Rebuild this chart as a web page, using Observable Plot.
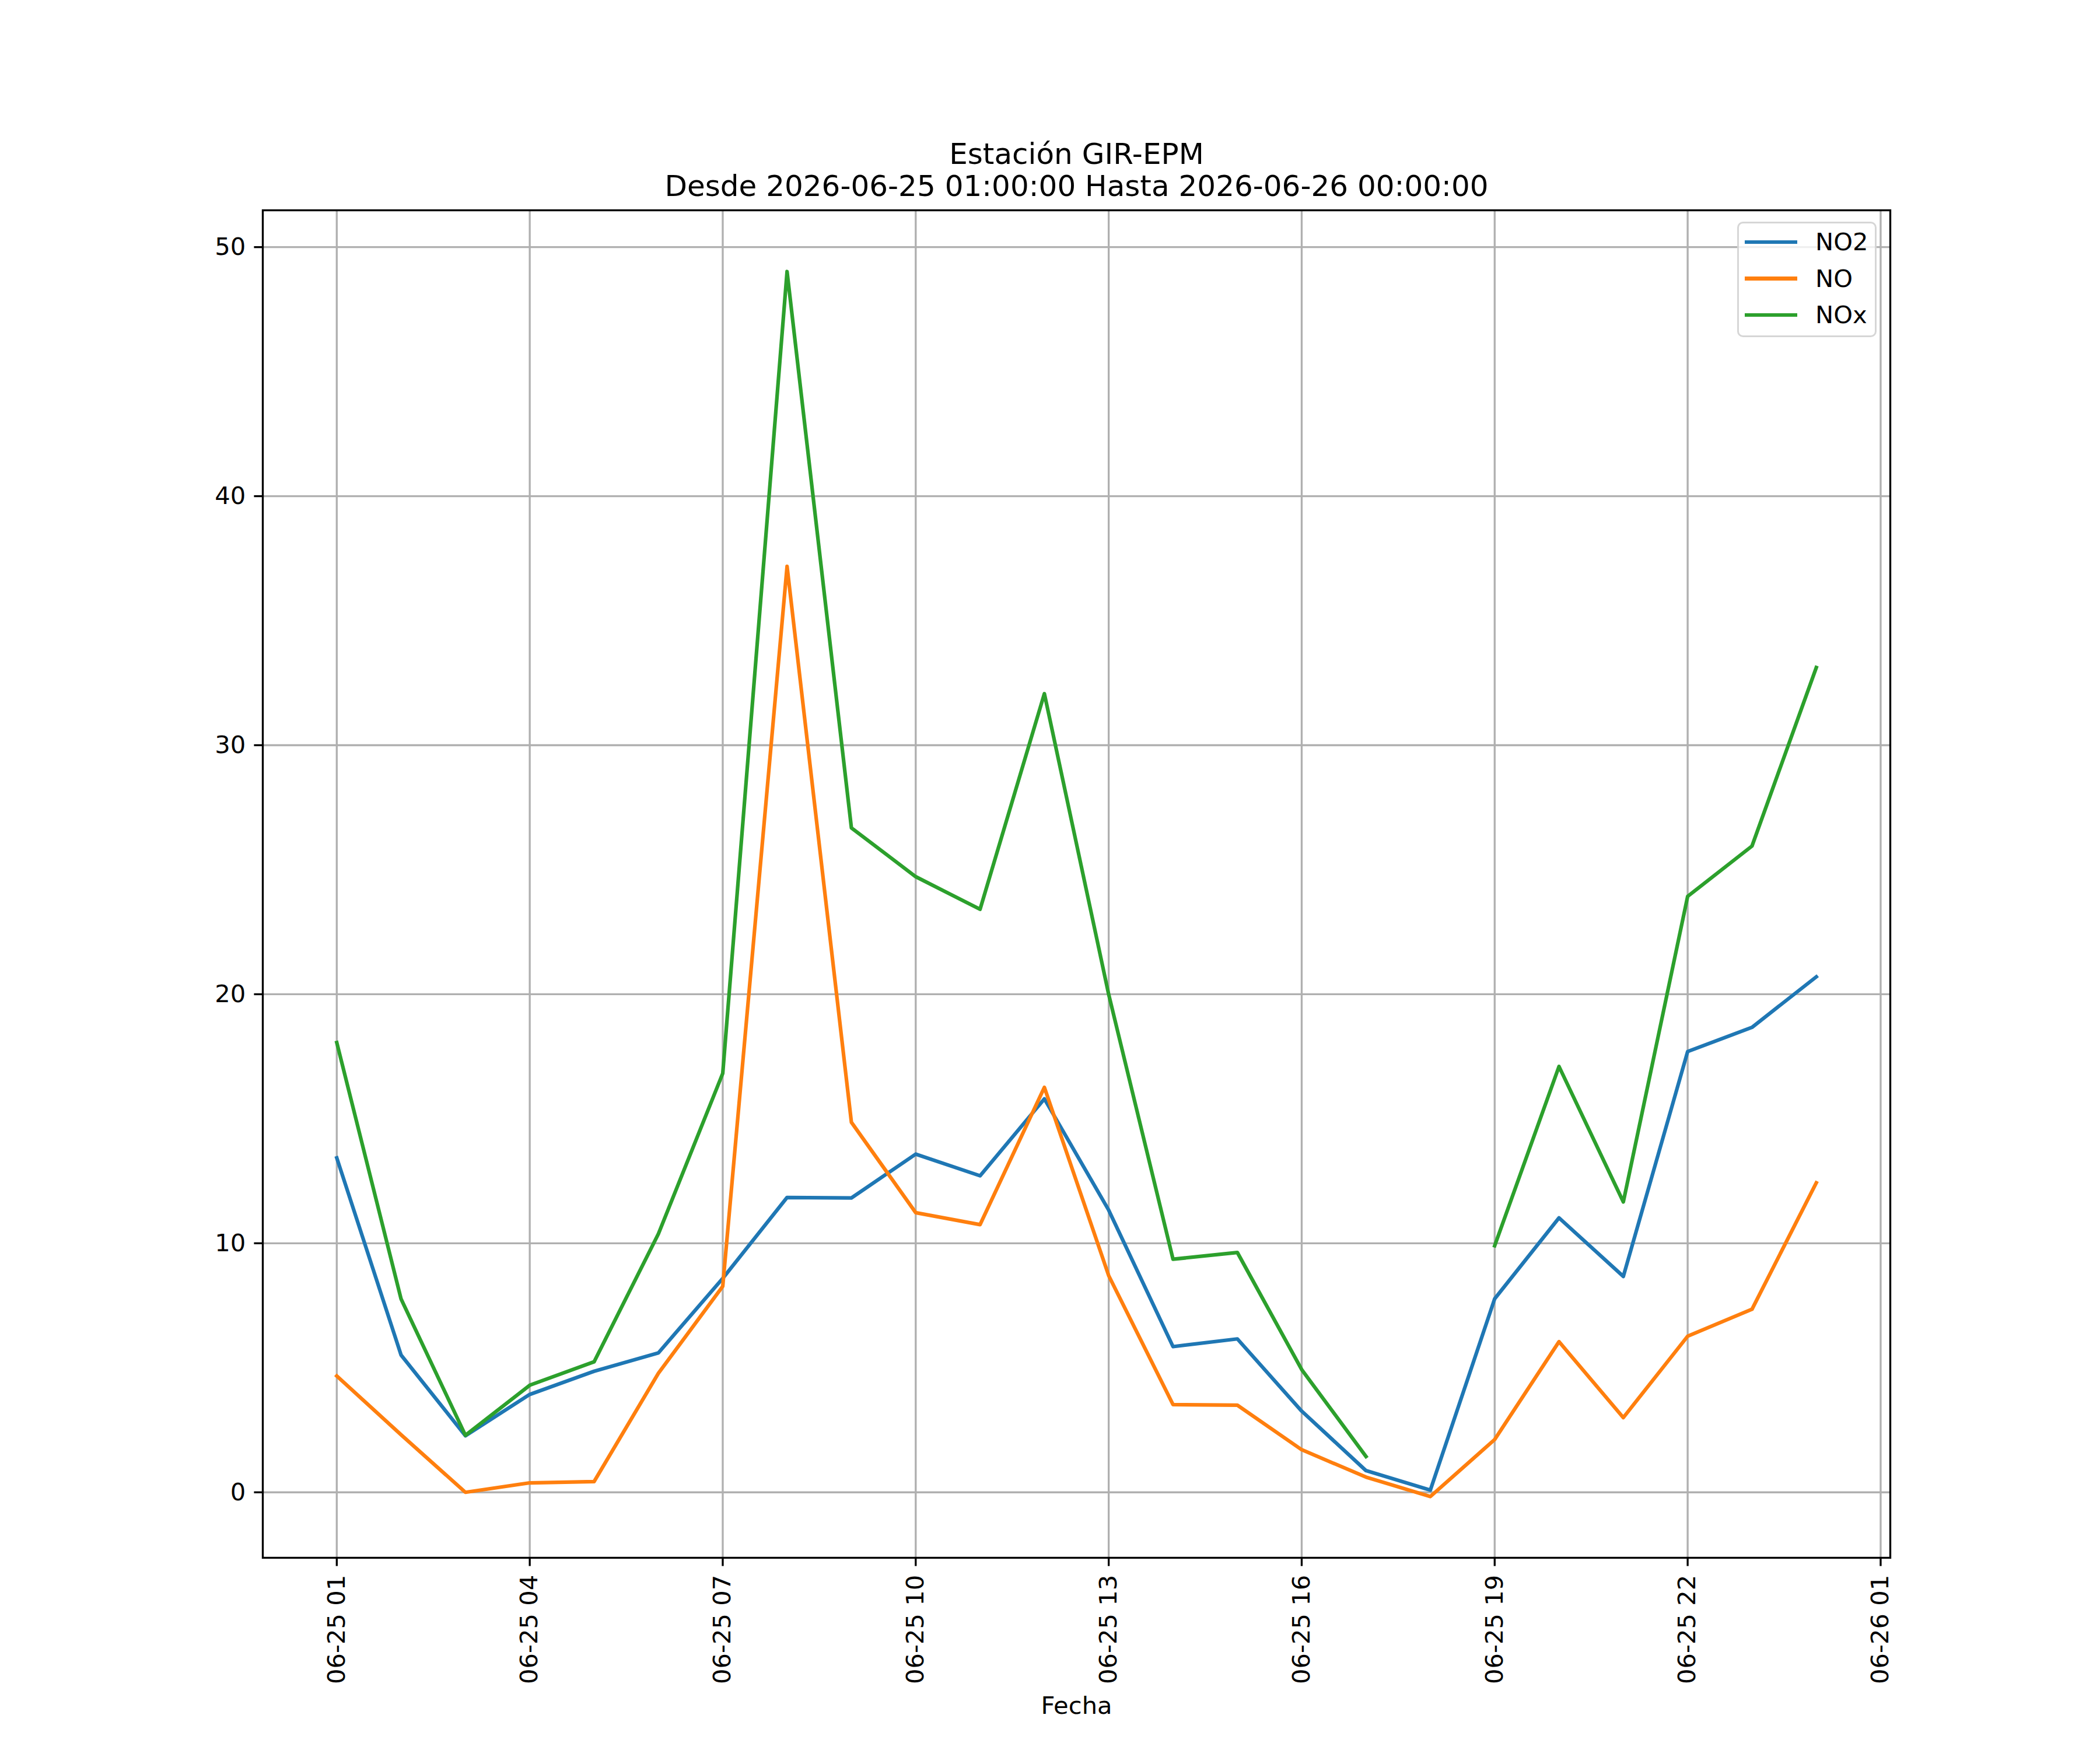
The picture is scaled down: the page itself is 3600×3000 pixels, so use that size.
<!DOCTYPE html>
<html>
<head>
<meta charset="utf-8">
<script src="https://cdn.jsdelivr.net/npm/d3@7"></script>
<script src="https://cdn.jsdelivr.net/npm/@observablehq/plot@0.6"></script>
<style>
  body { margin: 0; background: #fff; }
  #fig { position: relative; width: 3600px; height: 3000px; background: #fff; font-family: "DejaVu Sans", sans-serif; color: #000; }
  #fig svg { position: absolute; left: 0; top: 0; }
  .legbox { position: absolute; box-sizing: border-box; border: 3.33px solid rgba(204,204,204,0.8); border-radius: 10px; background: rgba(255,255,255,0.8); }
  .legline { position: absolute; height: 6.25px; }
  .legtext { position: absolute; font-size: 41.67px; line-height: 41.67px; white-space: nowrap; font-family: "DejaVu Sans", sans-serif; }
</style>
</head>
<body>
<div id="fig"></div>
<script>
// ---- data (hours of 2026-06-25; 24 = 2026-06-26 00:00) ----
const hours = [1,2,3,4,5,6,7,8,9,10,11,12,13,14,15,16,17,18,19,20,21,22,23,24];
const no2 = [13.43, 5.51, 2.27, 3.93, 4.86, 5.60, 8.59, 11.84, 11.82, 13.58, 12.71, 15.80, 11.33, 5.85, 6.16, 3.26, 0.87, 0.09, 7.77, 11.02, 8.67, 17.70, 18.67, 20.70];
const no  = [4.67, 2.31, 0.00, 0.38, 0.43, 4.78, 8.27, 37.18, 14.86, 11.23, 10.75, 16.26, 8.70, 3.52, 3.50, 1.71, 0.61, -0.17, 2.12, 6.05, 3.00, 6.27, 7.35, 12.43];
const nox = [18.06, 7.76, 2.29, 4.30, 5.24, 10.38, 16.82, 49.02, 26.68, 24.72, 23.41, 32.07, 19.99, 9.36, 9.63, 4.93, 1.44, null, 9.90, 17.10, 11.66, 23.93, 25.95, 33.12];
const seriesNames = ["NO2", "NO", "NOx"];
const seriesColors = ["#1f77b4", "#ff7f0e", "#2ca02c"];
const yTicks = [0, 10, 20, 30, 40, 50];
const xTickHours = [1, 4, 7, 10, 13, 16, 19, 22, 25];
const titleLines = ["Estación GIR-EPM", "Desde 2026-06-25 01:00:00 Hasta 2026-06-26 00:00:00"];
const xLabel = "Fecha";

// ---- build ----
const toDate = h => new Date(Date.UTC(2026, 5, 25, h));
const seriesValues = [no2, no, nox];
const tables = seriesValues.map((vals, i) =>
  hours.map((h, j) => ({t: toDate(h), v: vals[j], s: seriesNames[i]})));
const xTicks = xTickHours.map(toDate);

const t0 = toDate(hours[0]).getTime(), t1 = toDate(hours[hours.length - 1]).getTime();
const xpad = 0.05 * (t1 - t0);
const allVals = seriesValues.flat().filter(v => v != null);
const vmin = d3.min(allVals), vmax = d3.max(allVals);
const ypad = 0.05 * (vmax - vmin);

const fmt = d3.utcFormat("%m-%d %H");
const SW = 3.33;

const plot = Plot.plot({
  width: 3600,
  height: 3000,
  marginLeft: 450,
  marginRight: 360,
  marginTop: 360,
  marginBottom: 330,
  style: {fontFamily: "DejaVu Sans, sans-serif", fontSize: "41.67px", color: "#000", background: "transparent"},
  x: {type: "utc", domain: [new Date(t0 - xpad), new Date(t1 + xpad)]},
  y: {domain: [vmin - ypad, vmax + ypad]},
  marks: [
    Plot.gridX({ticks: xTicks, stroke: "#b0b0b0", strokeOpacity: 1, strokeWidth: SW}),
    Plot.gridY({ticks: yTicks, stroke: "#b0b0b0", strokeOpacity: 1, strokeWidth: SW}),
    ...tables.map((tab, i) => Plot.line(tab, {
      x: "t", y: "v", stroke: seriesColors[i], strokeWidth: 6.25,
      strokeLinejoin: "round", strokeLinecap: "square"
    })),
    Plot.frame({stroke: "#000", strokeWidth: SW}),
    Plot.axisX({ticks: xTicks, tickFormat: fmt, tickRotate: -90, tickSize: 14.6, tickPadding: 14.6,
      fontSize: 41.67, strokeWidth: SW, label: null}),
    Plot.axisY({ticks: yTicks, tickSize: 14.6, tickPadding: 14.6, fontSize: 41.67, strokeWidth: SW, label: null}),
    Plot.text([titleLines[0]], {text: d => d, frameAnchor: "top", dy: -80, lineAnchor: "bottom", fontSize: 50, fill: "#000"}),
    Plot.text([titleLines[1]], {text: d => d, frameAnchor: "top", dy: -25, lineAnchor: "bottom", fontSize: 50, fill: "#000"}),
    Plot.text([xLabel], {text: d => d, frameAnchor: "bottom", dy: 267, lineAnchor: "bottom", fontSize: 41.67, fill: "#000"})
  ]
});

const fig = document.getElementById("fig");
fig.appendChild(plot);

// ---- legend (upper right) ----
const box = document.createElement("div");
box.className = "legbox";
Object.assign(box.style, {left: "2978px", top: "380px", width: "239px", height: "198px"});
fig.appendChild(box);
const rowY = [415, 477.5, 540];
seriesNames.forEach((name, i) => {
  const ln = document.createElement("div");
  ln.className = "legline";
  Object.assign(ln.style, {left: "2991px", width: "90px", top: (rowY[i] - 3.1) + "px", background: seriesColors[i]});
  fig.appendChild(ln);
  const tx = document.createElement("div");
  tx.className = "legtext";
  tx.textContent = name;
  Object.assign(tx.style, {left: "3112px", top: (rowY[i] + 14.5 - 35.3) + "px"});
  fig.appendChild(tx);
});
</script>
</body>
</html>
